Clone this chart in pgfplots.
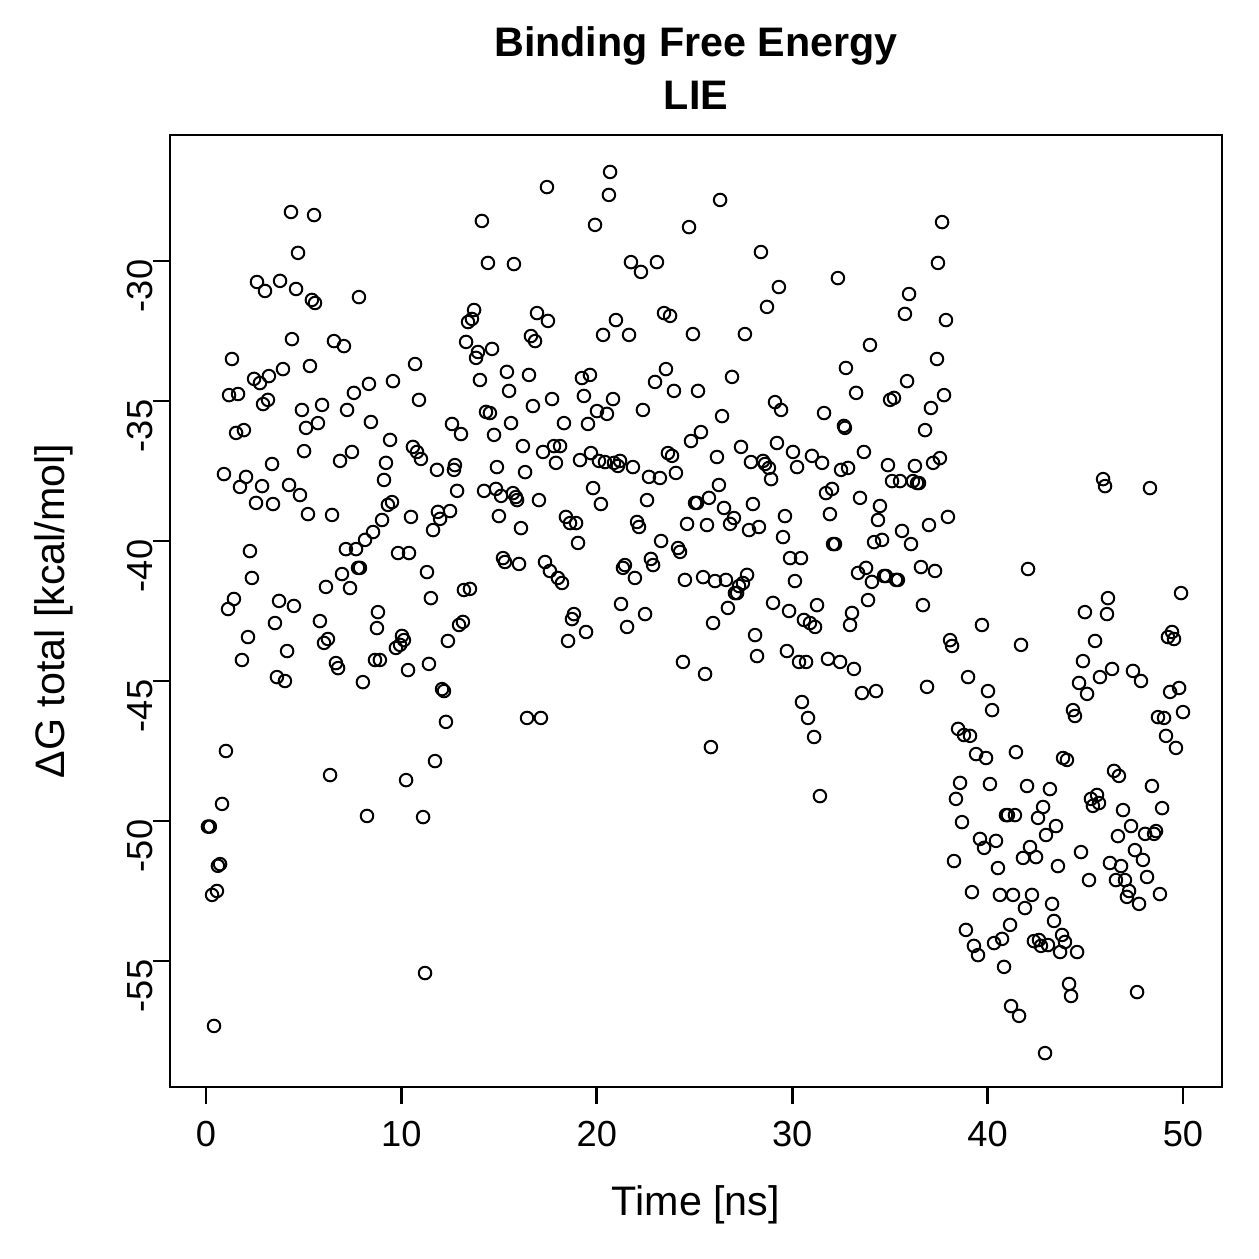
\documentclass[border=0pt]{standalone}
\usepackage{fontspec}
\setmainfont{Liberation Sans}
\usepackage{pgfplots}
\pgfplotsset{compat=1.18}
\begin{document}
\begin{tikzpicture}
\path[use as bounding box] (-68pt,-68.8pt) rectangle (435.6pt,434.8pt);
\begin{axis}[
  at={(0pt,0pt)}, anchor=south west,
  scale only axis, width=420.8pt, height=380.8pt,
  xmin=-1.842, xmax=51.996, ymin=-59.5, ymax=-25.5,
  axis line style={line width=1.1pt},
  tick style={line width=1.1pt, black},
  tick align=outside, tick pos=left, major tick length=6.8pt,
  xtick={0,10,...,50}, xticklabels={0,10,20,30,40,50},
  ytick={-55,-50,...,-30}, yticklabels={-55,-50,-45,-40,-35,-30},
  ticklabel style={font=\fontsize{14.5}{17}\selectfont},
  xticklabel style={anchor=base, yshift=-16.8pt},
  yticklabel style={rotate=90, anchor=base, xshift=-10pt},
  label style={font=\fontsize{16.5}{20}\selectfont},
  xlabel={Time [ns]},
  xlabel style={at={(axis description cs:0.5,-0.1355)}, anchor=base},
  ylabel={ΔG total [kcal/mol]},
  ylabel style={at={(axis description cs:-0.1,0.5)}, anchor=base, rotate=0},
  title={Binding Free Energy},
  title style={font=\fontsize{16.5}{20}\selectfont\bfseries, at={(axis description cs:0.5,1.0672)}, anchor=base},
  extra description/.code={\node[font=\fontsize{16.5}{20}\selectfont\bfseries, anchor=base] at (axis description cs:0.5,1.0273) {LIE};},
]
% LIE total binding free energy along the trajectory
\addplot[black, only marks, mark=o, mark size=2.5pt, line width=0.8pt] coordinates {
(0.10,-50.2) (0.20,-50.2) (0.31,-52.64) (0.56,-52.5) (0.41,-57.32) (0.61,-51.6) (0.72,-51.54) (0.82,-49.39)
(0.92,-37.61) (1.02,-47.5) (1.13,-42.43) (1.18,-34.79) (1.33,-33.5) (1.43,-42.07) (1.54,-36.14) (1.64,-34.75)
(1.74,-38.07) (1.84,-44.25) (1.94,-36.04) (2.05,-37.71) (2.15,-43.43) (2.25,-40.36) (2.35,-41.32) (2.46,-34.21)
(2.56,-38.64) (2.61,-30.75) (2.76,-34.36) (2.87,-38.04) (2.92,-35.11) (3.02,-31.07) (3.17,-34.96) (3.22,-34.11)
(3.38,-37.25) (3.43,-38.68) (3.53,-42.93) (3.63,-44.86) (3.74,-42.14) (3.79,-30.71) (3.94,-33.86) (4.04,-45.0)
(4.15,-43.93) (4.25,-38.0) (4.35,-28.25) (4.40,-32.79) (4.50,-42.32) (4.61,-31.0) (4.71,-29.71) (4.81,-38.36)
(4.91,-35.32) (5.02,-36.79) (5.12,-35.96) (5.22,-39.04) (5.32,-33.75) (5.42,-31.39) (5.53,-28.36) (5.58,-31.5)
(5.73,-35.79) (5.83,-42.86) (5.94,-35.14) (6.04,-43.64) (6.14,-41.64) (6.24,-43.5) (6.35,-48.36) (6.45,-39.07)
(6.55,-32.86) (6.65,-44.36) (6.76,-44.54) (6.86,-37.14) (6.96,-41.18) (7.06,-33.04) (7.16,-40.29) (7.22,-35.32)
(7.37,-41.68) (7.47,-36.82) (7.57,-34.71) (7.68,-40.29) (7.78,-40.96) (7.83,-31.29) (7.88,-40.96) (8.03,-45.04)
(8.14,-39.96) (8.24,-49.82) (8.34,-34.39) (8.44,-35.75) (8.55,-39.68) (8.65,-44.25) (8.75,-43.11) (8.80,-42.54)
(8.90,-44.25) (9.01,-39.25) (9.11,-37.82) (9.21,-37.21) (9.31,-38.71) (9.42,-36.39) (9.52,-38.61) (9.57,-34.29)
(9.72,-43.82) (9.83,-40.43) (9.93,-43.71) (10.03,-43.39) (10.13,-43.54) (10.24,-48.54) (10.34,-44.61) (10.39,-40.43)
(10.49,-39.14) (10.59,-36.64) (10.70,-33.68) (10.80,-36.82) (10.90,-34.96) (11.00,-37.07) (11.11,-49.86) (11.21,-55.43)
(11.31,-41.11) (11.41,-44.39) (11.51,-42.04) (11.62,-39.61) (11.72,-47.86) (11.82,-37.46) (11.87,-38.96) (11.98,-39.21)
(12.08,-45.29) (12.18,-45.36) (12.28,-46.46) (12.38,-43.57) (12.49,-38.93) (12.59,-35.82) (12.69,-37.46) (12.74,-37.29)
(12.85,-38.21) (12.95,-43.0) (13.05,-36.18) (13.15,-42.89) (13.20,-41.75) (13.31,-32.89) (13.41,-32.18) (13.51,-41.71)
(13.61,-32.07) (13.72,-31.75) (13.82,-33.46) (13.92,-33.25) (14.02,-34.25) (14.12,-28.57) (14.23,-38.21) (14.33,-35.39)
(14.43,-30.07) (14.53,-35.43) (14.64,-33.14) (14.74,-36.21) (14.84,-38.14) (14.89,-37.36) (14.99,-39.11) (15.10,-38.39)
(15.20,-40.61) (15.30,-40.75) (15.40,-33.96) (15.51,-34.64) (15.61,-35.79) (15.71,-38.29) (15.76,-30.11) (15.86,-38.43)
(15.92,-38.54) (16.02,-40.82) (16.12,-39.54) (16.22,-36.61) (16.33,-37.54) (16.43,-46.32) (16.53,-34.07) (16.63,-32.68)
(16.73,-35.18) (16.84,-32.86) (16.94,-31.86) (17.04,-38.54) (17.14,-46.32) (17.25,-36.82) (17.35,-40.75) (17.45,-27.36)
(17.50,-32.14) (17.60,-41.07) (17.71,-34.93) (17.81,-36.61) (17.91,-37.21) (18.01,-41.32) (18.12,-36.61) (18.22,-41.5)
(18.32,-35.79) (18.42,-39.14) (18.53,-43.57) (18.63,-39.36) (18.73,-42.79) (18.83,-42.61) (18.94,-39.36) (19.04,-40.07)
(19.14,-37.11) (19.24,-34.18) (19.34,-34.82) (19.45,-43.25) (19.55,-35.82) (19.65,-34.07) (19.70,-36.86) (19.81,-38.11)
(19.91,-28.71) (20.01,-35.36) (20.11,-37.14) (20.21,-38.68) (20.32,-32.64) (20.42,-37.18) (20.52,-35.46) (20.62,-27.64)
(20.68,-26.82) (20.83,-34.93) (20.88,-37.21) (20.98,-32.11) (21.08,-37.32) (21.19,-37.14) (21.24,-42.25) (21.34,-40.96)
(21.44,-40.86) (21.55,-43.07) (21.65,-32.64) (21.75,-30.04) (21.85,-37.36) (21.95,-41.32) (22.06,-39.32) (22.16,-39.5)
(22.26,-30.39) (22.36,-35.32) (22.47,-42.61) (22.57,-38.54) (22.67,-37.71) (22.77,-40.64) (22.88,-40.86) (22.98,-34.32)
(23.08,-30.04) (23.23,-37.75) (23.29,-40.0) (23.44,-31.86) (23.54,-33.86) (23.64,-36.86) (23.75,-31.96) (23.85,-36.96)
(23.95,-34.64) (24.05,-37.57) (24.16,-40.25) (24.26,-40.39) (24.41,-44.32) (24.51,-41.39) (24.62,-39.39) (24.72,-28.79)
(24.82,-36.43) (24.92,-32.61) (25.03,-38.64) (25.13,-38.64) (25.18,-34.64) (25.33,-36.11) (25.44,-41.29) (25.54,-44.75)
(25.64,-39.43) (25.74,-38.46) (25.84,-47.36) (25.95,-42.93) (26.05,-41.43) (26.15,-37.0) (26.25,-38.0) (26.31,-27.82)
(26.41,-35.54) (26.51,-38.82) (26.61,-41.39) (26.71,-42.39) (26.82,-39.39) (26.92,-34.14) (27.02,-39.18) (27.07,-41.86)
(27.18,-41.86) (27.28,-41.61) (27.38,-36.64) (27.48,-41.5) (27.58,-32.61) (27.69,-41.21) (27.79,-39.61) (27.89,-37.18)
(27.99,-38.68) (28.10,-43.36) (28.20,-44.11) (28.30,-39.5) (28.40,-29.68) (28.51,-37.14) (28.61,-37.25) (28.71,-31.64)
(28.81,-37.39) (28.92,-37.79) (29.02,-42.21) (29.12,-35.04) (29.22,-36.5) (29.32,-30.93) (29.43,-35.32) (29.53,-39.86)
(29.63,-39.11) (29.73,-43.93) (29.84,-42.5) (29.89,-40.61) (30.04,-36.82) (30.14,-41.43) (30.25,-37.36) (30.35,-44.32)
(30.45,-40.61) (30.50,-45.75) (30.60,-42.82) (30.71,-44.32) (30.81,-46.32) (30.91,-42.93) (31.01,-36.96) (31.12,-47.0)
(31.17,-43.07) (31.27,-42.29) (31.42,-49.11) (31.53,-37.21) (31.63,-35.43) (31.73,-38.29) (31.83,-44.21) (31.93,-39.04)
(32.04,-38.14) (32.09,-40.11) (32.19,-40.11) (32.34,-30.61) (32.45,-44.32) (32.50,-37.46) (32.65,-35.89) (32.70,-35.96)
(32.75,-33.82) (32.86,-37.39) (32.96,-43.0) (33.06,-42.57) (33.16,-44.57) (33.27,-34.71) (33.37,-41.14) (33.47,-38.46)
(33.57,-45.43) (33.67,-36.82) (33.78,-40.96) (33.88,-42.11) (33.98,-33.0) (34.08,-41.46) (34.19,-40.04) (34.29,-45.36)
(34.39,-39.25) (34.49,-38.75) (34.60,-39.96) (34.70,-41.25) (34.80,-41.25) (34.90,-37.29) (35.01,-34.96) (35.11,-37.86)
(35.21,-34.89) (35.31,-41.39) (35.41,-41.39) (35.52,-37.86) (35.62,-39.64) (35.77,-31.89) (35.88,-34.29) (35.98,-31.18)
(36.08,-40.11) (36.18,-37.86) (36.28,-37.32) (36.39,-37.93) (36.49,-37.93) (36.59,-40.93) (36.69,-42.29) (36.80,-36.04)
(36.90,-45.21) (37.00,-39.43) (37.10,-35.25) (37.21,-37.21) (37.31,-41.07) (37.41,-33.5) (37.46,-30.07) (37.56,-37.04)
(37.67,-28.61) (37.77,-34.79) (37.87,-32.11) (37.97,-39.14) (38.08,-43.54) (38.18,-43.75) (38.28,-51.43) (38.38,-49.21)
(38.49,-46.71) (38.59,-48.64) (38.69,-50.04) (38.79,-46.93) (38.89,-53.89) (39.00,-44.86) (39.10,-46.96) (39.20,-52.54)
(39.30,-54.46) (39.41,-47.61) (39.51,-54.79) (39.61,-50.64) (39.71,-43.0) (39.82,-50.96) (39.92,-47.75) (40.02,-45.36)
(40.12,-48.68) (40.23,-46.04) (40.33,-54.36) (40.43,-50.71) (40.53,-51.68) (40.63,-52.64) (40.74,-54.21) (40.84,-55.21)
(40.94,-49.79) (41.04,-49.79) (41.15,-53.71) (41.20,-56.61) (41.30,-52.64) (41.40,-49.79) (41.45,-47.54) (41.61,-56.96)
(41.71,-43.71) (41.81,-51.32) (41.91,-53.11) (42.02,-48.75) (42.07,-41.0) (42.17,-50.93) (42.27,-52.64) (42.37,-54.29)
(42.48,-51.29) (42.58,-49.89) (42.63,-54.25) (42.73,-54.46) (42.84,-49.5) (42.94,-58.29) (42.99,-50.5) (43.09,-54.43)
(43.19,-48.86) (43.30,-52.96) (43.40,-53.57) (43.50,-50.18) (43.60,-51.61) (43.71,-54.68) (43.81,-54.07) (43.86,-47.75)
(43.96,-54.32) (44.06,-47.82) (44.17,-55.82) (44.27,-56.25) (44.37,-46.04) (44.47,-46.25) (44.58,-54.68) (44.68,-45.07)
(44.78,-51.11) (44.88,-44.29) (44.98,-42.54) (45.09,-45.46) (45.19,-52.11) (45.29,-49.21) (45.39,-49.46) (45.50,-43.57)
(45.60,-49.07) (45.70,-49.36) (45.75,-44.86) (45.91,-37.79) (46.01,-38.04) (46.11,-42.61) (46.16,-42.04) (46.26,-51.5)
(46.37,-44.57) (46.47,-48.21) (46.57,-52.11) (46.67,-50.54) (46.72,-48.39) (46.83,-51.61) (46.93,-49.61) (47.03,-52.11)
(47.13,-52.71) (47.24,-52.5) (47.34,-50.18) (47.44,-44.64) (47.54,-51.04) (47.65,-56.11) (47.75,-52.96) (47.85,-45.0)
(47.95,-51.39) (48.06,-50.46) (48.16,-52.0) (48.31,-38.11) (48.41,-48.75) (48.52,-50.46) (48.62,-50.36) (48.72,-46.29)
(48.82,-52.61) (48.93,-49.54) (49.03,-46.32) (49.13,-46.96) (49.23,-43.43) (49.34,-45.39) (49.44,-43.25) (49.54,-43.5)
(49.64,-47.39) (49.80,-45.25) (49.90,-41.86) (50.00,-46.11)
};
\end{axis}
\end{tikzpicture}
\end{document}
